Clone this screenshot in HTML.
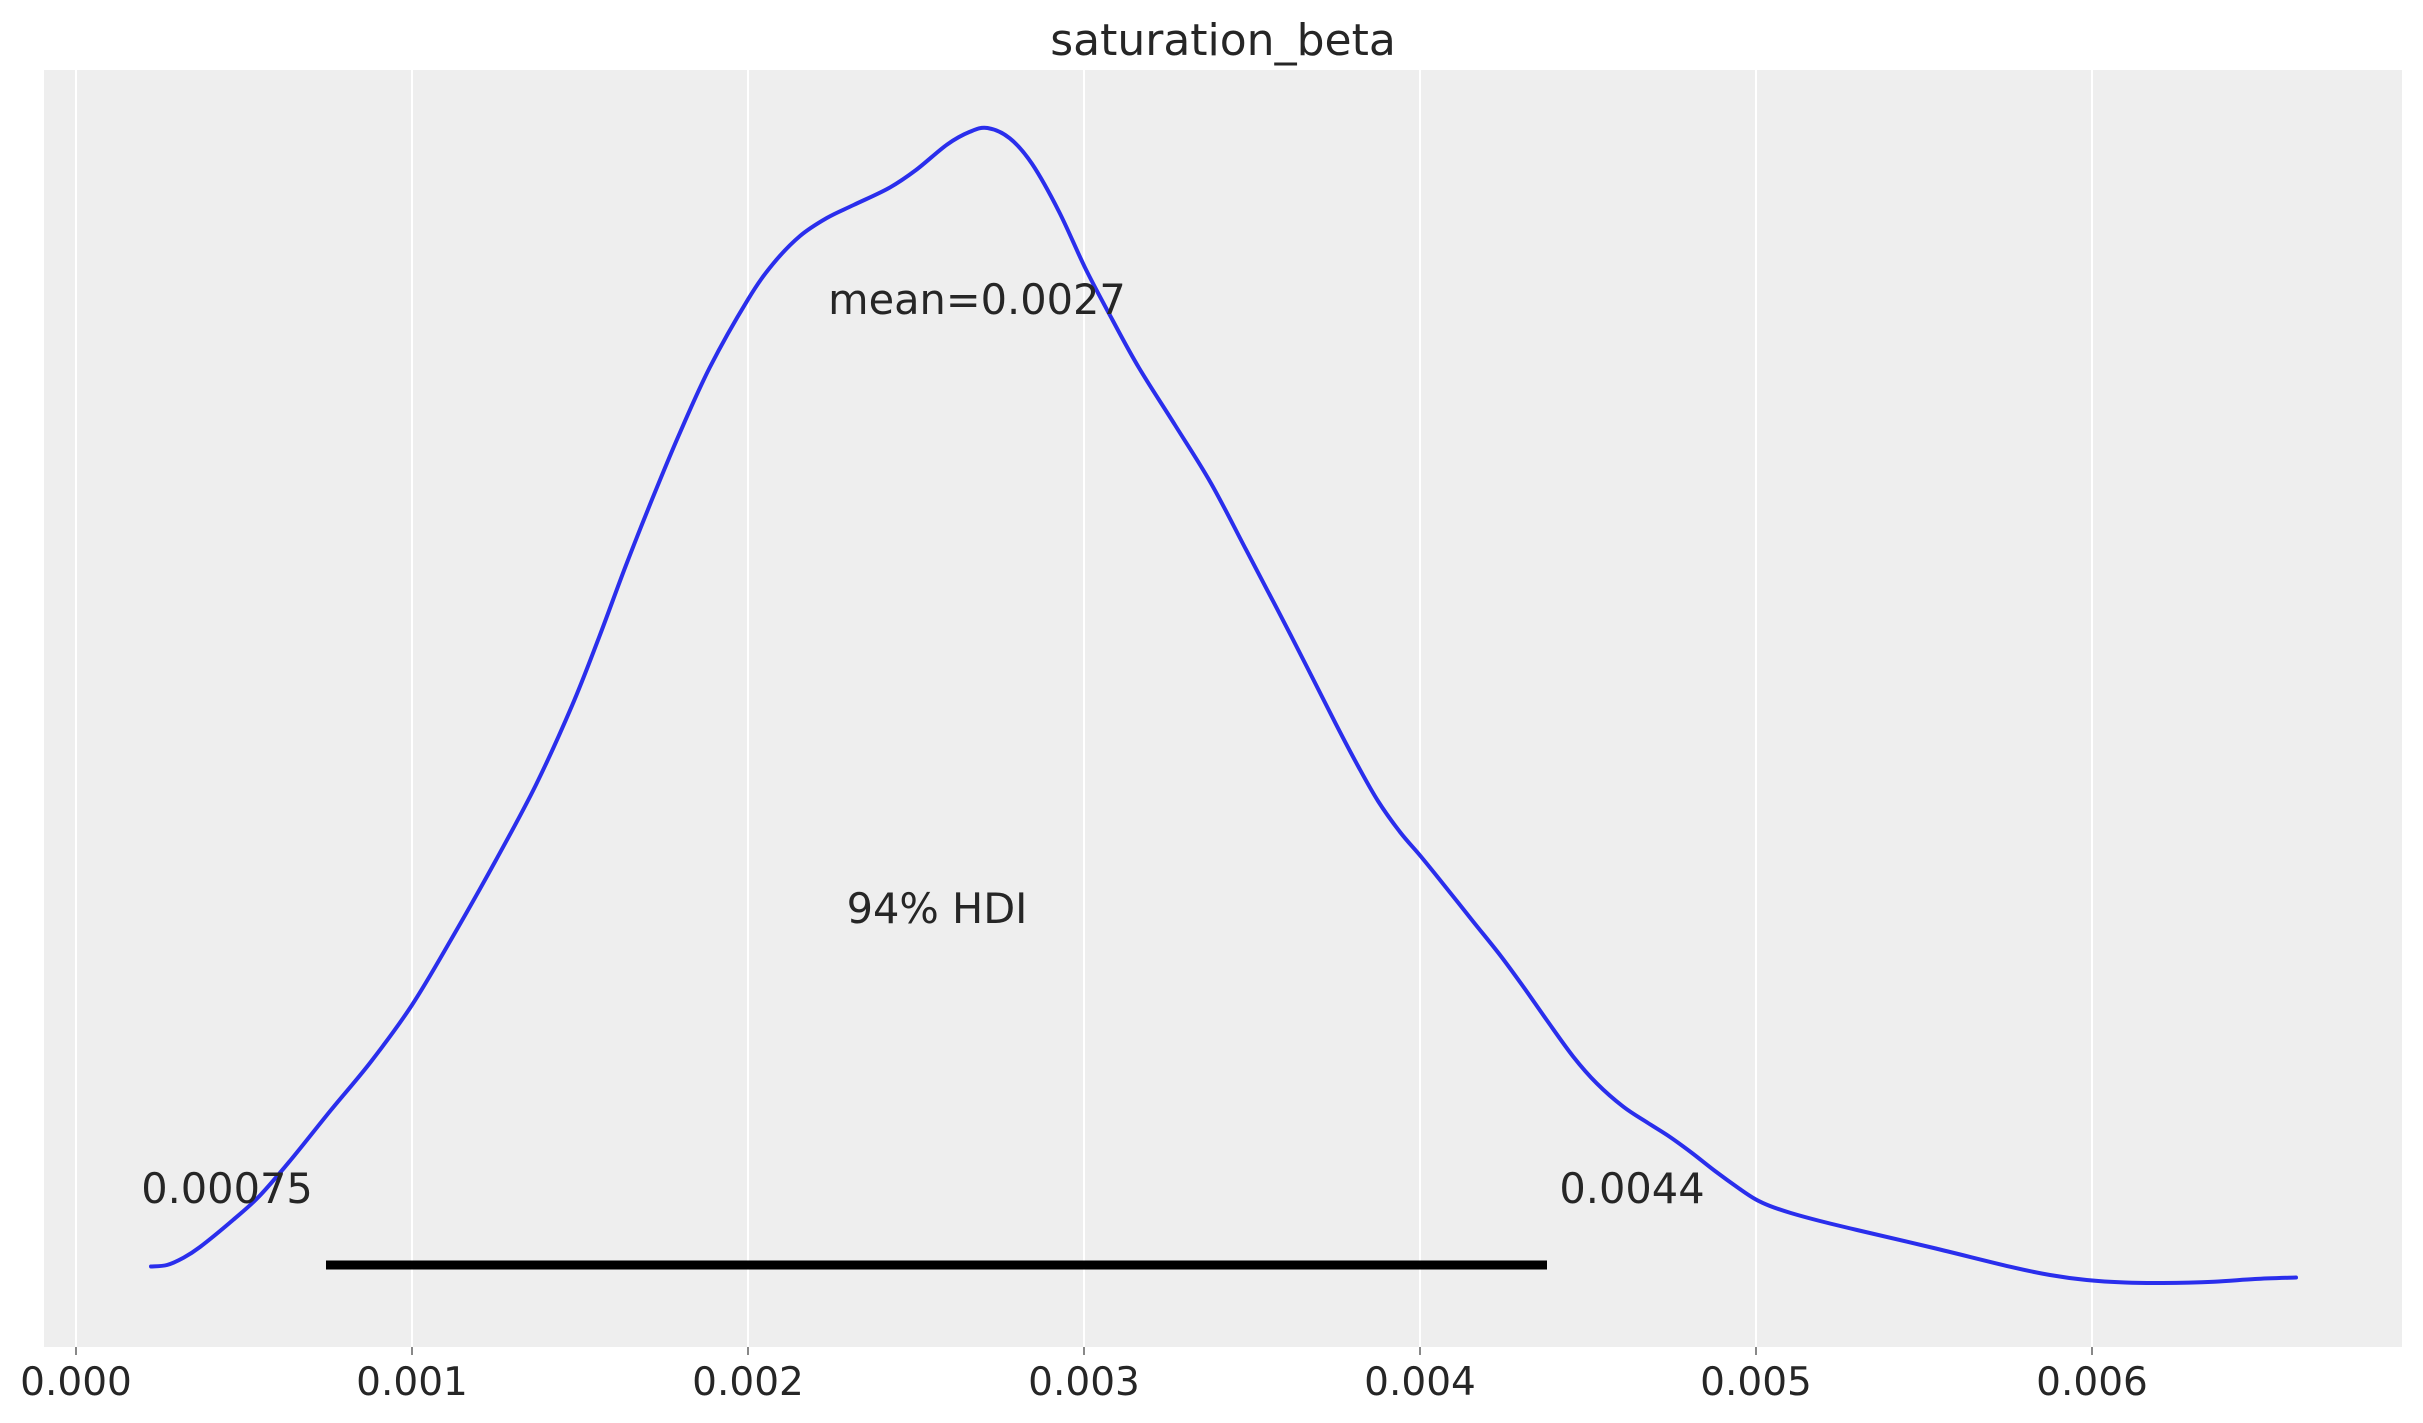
<!DOCTYPE html>
<html>
<head>
<meta charset="utf-8">
<style>
  html, body { margin: 0; padding: 0; background: #ffffff; }
  svg { display: block; }
  text { font-family: "DejaVu Sans", "Liberation Sans", sans-serif; fill: #262626; }
</style>
</head>
<body>
<svg id="chart" width="2423" height="1423" viewBox="0 0 2423 1423" xmlns="http://www.w3.org/2000/svg">
  <rect x="0" y="0" width="2423" height="1423" fill="#ffffff"/>
  <!-- axes background -->
  <rect x="44" y="70" width="2358" height="1277" fill="#eeeeee"/>
  <!-- grid lines -->
  <g stroke="#ffffff" stroke-width="2">
    <line x1="76" y1="70" x2="76" y2="1347"/>
    <line x1="412" y1="70" x2="412" y2="1347"/>
    <line x1="748" y1="70" x2="748" y2="1347"/>
    <line x1="1084" y1="70" x2="1084" y2="1347"/>
    <line x1="1420" y1="70" x2="1420" y2="1347"/>
    <line x1="1756" y1="70" x2="1756" y2="1347"/>
    <line x1="2092" y1="70" x2="2092" y2="1347"/>
  </g>
  <!-- ticks -->
  <g stroke="#888888" stroke-width="2">
    <line x1="76" y1="1347" x2="76" y2="1355"/>
    <line x1="412" y1="1347" x2="412" y2="1355"/>
    <line x1="748" y1="1347" x2="748" y2="1355"/>
    <line x1="1084" y1="1347" x2="1084" y2="1355"/>
    <line x1="1420" y1="1347" x2="1420" y2="1355"/>
    <line x1="1756" y1="1347" x2="1756" y2="1355"/>
    <line x1="2092" y1="1347" x2="2092" y2="1355"/>
  </g>
  <!-- tick labels -->
  <g font-size="39" text-anchor="middle">
    <text x="76" y="1395">0.000</text>
    <text x="412" y="1395">0.001</text>
    <text x="748" y="1395">0.002</text>
    <text x="1084" y="1395">0.003</text>
    <text x="1420" y="1395">0.004</text>
    <text x="1756" y="1395">0.005</text>
    <text x="2092" y="1395">0.006</text>
  </g>
  <!-- HDI bar -->
  <rect x="326" y="1260.5" width="1221" height="9" fill="#000000"/>
  <!-- density curve -->
  <polyline id="curve" fill="none" stroke="#2a2eec" stroke-width="4" stroke-linejoin="round" stroke-linecap="round"
    points="151,1266.5 167,1265 183,1258 200,1247 233,1220 259.5,1196 290.7,1160 331,1110 371,1061.6 412,1005 451.4,939 496,860 536,784.7 572,705.7 598.8,638 625.5,566.5 652.3,498.8 679,434.8 710,367 748,299.4 772.9,264 800,236 826.8,218 853.6,205 889,188 916,170 947,144.6 969.6,131.9 987.5,128 1009.8,138.3 1032,163.8 1059,211.6 1085.7,269 1112.5,320 1139,367.9 1175,425 1210.7,482.7 1246,549.6 1291,635.7 1335.7,723.7 1358,766 1378,801 1400,832 1420.5,856 1440,880 1473.3,921.7 1500,955 1523.3,986.7 1546.7,1020 1573.3,1056.7 1596.7,1083.3 1623.3,1106.7 1648,1123 1670,1137 1692,1153 1715,1171 1739.8,1189 1755,1199 1770,1206 1790.8,1213 1820,1221 1857,1230 1933.7,1248 2010,1266.7 2050,1275 2086.7,1280 2125,1282.5 2163,1283 2214,1281.7 2255,1279 2296,1277.5"/>
  <!-- annotations -->
  <g font-size="41.5" text-anchor="middle">
    <text x="977" y="314">mean=0.0027</text>
    <text x="937" y="923">94% HDI</text>
    <text x="227" y="1203">0.00075</text>
    <text x="1632" y="1203">0.0044</text>
  </g>
  <!-- title -->
  <text x="1223" y="55" font-size="44" text-anchor="middle">saturation_beta</text>
</svg>
<script>
(function(){
  try {
    var pl = document.getElementById('curve');
    var raw = pl.getAttribute('points').trim().split(/\s+/).map(function(s){var a=s.split(',');return [parseFloat(a[0]),parseFloat(a[1])];});
    var n = raw.length;
    var d = 'M' + raw[0][0] + ',' + raw[0][1];
    for (var i = 0; i < n - 1; i++) {
      var p0 = raw[i > 0 ? i - 1 : i], p1 = raw[i], p2 = raw[i + 1], p3 = raw[i + 2 < n ? i + 2 : i + 1];
      var c1x = p1[0] + (p2[0] - p0[0]) / 6, c1y = p1[1] + (p2[1] - p0[1]) / 6;
      var c2x = p2[0] - (p3[0] - p1[0]) / 6, c2y = p2[1] - (p3[1] - p1[1]) / 6;
      d += ' C' + c1x.toFixed(2) + ',' + c1y.toFixed(2) + ' ' + c2x.toFixed(2) + ',' + c2y.toFixed(2) + ' ' + p2[0] + ',' + p2[1];
    }
    var path = document.createElementNS('http://www.w3.org/2000/svg', 'path');
    path.setAttribute('d', d);
    path.setAttribute('fill', 'none');
    path.setAttribute('stroke', '#2a2eec');
    path.setAttribute('stroke-width', '4');
    path.setAttribute('stroke-linejoin', 'round');
    path.setAttribute('stroke-linecap', 'round');
    pl.parentNode.replaceChild(path, pl);
  } catch (e) {}
})();
</script>
</body>
</html>
